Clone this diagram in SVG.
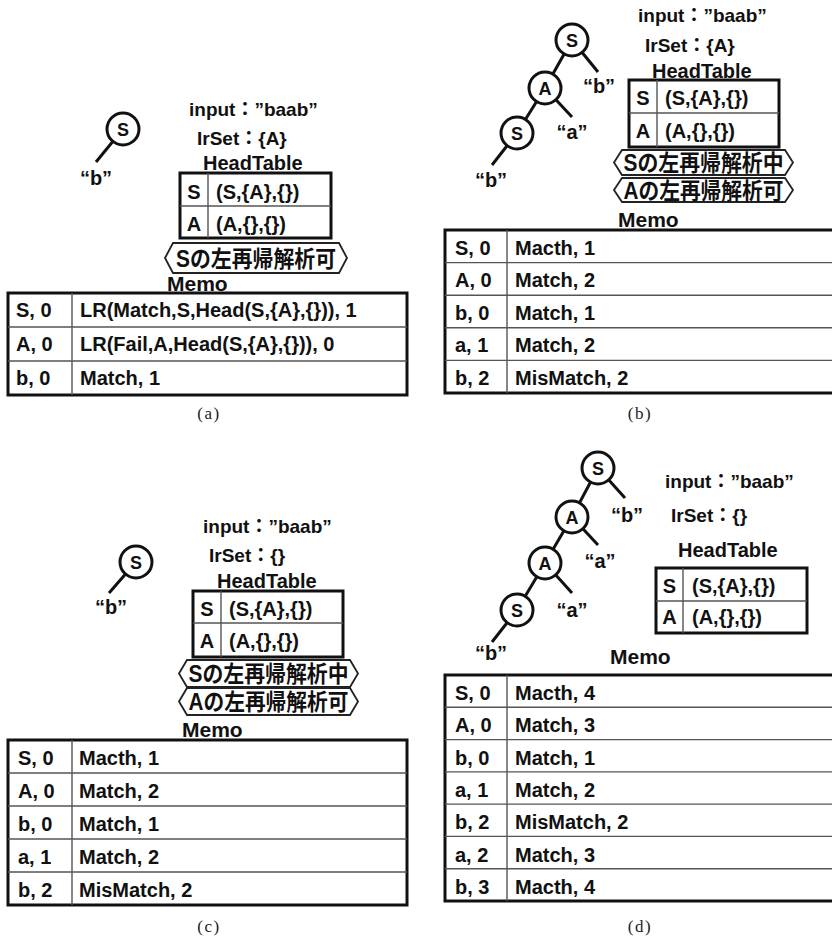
<svg xmlns="http://www.w3.org/2000/svg" width="832" height="939" viewBox="0 0 832 939">
<style>
.t{font-family:"Liberation Sans","Noto Sans CJK JP",sans-serif;font-weight:bold;fill:#111}
.lab{font-size:19px}
.ht{font-size:20px}
.memo{font-size:21px}
.cell{font-size:20px}
.q{font-size:20px;text-anchor:middle}
.mid{text-anchor:middle}
.cjk{font-family:"Liberation Sans","Noto Sans CJK JP",sans-serif;font-weight:bold;font-size:23px;text-anchor:middle;fill:#111}
.cap{font-family:"Liberation Serif","DejaVu Serif",serif;font-size:17px;letter-spacing:1.5px;text-anchor:middle;fill:#222}
.outer{fill:#fff;stroke:#111;stroke-width:3}
.inner{stroke:#555;stroke-width:1.4}
.hex{fill:#fff;stroke:#222;stroke-width:1.8}
.node circle{fill:#fff;stroke:#111;stroke-width:3}
.node text{font-family:"Liberation Sans",sans-serif;font-weight:bold;font-size:18px;text-anchor:middle;fill:#111}
.edge{stroke:#111;stroke-width:3;fill:none}
</style>
<rect width="832" height="939" fill="#fff"/>

<!-- connectors -->
<g id="connectors">
  <line class="edge" x1="123" y1="129" x2="96" y2="162"/>
  <line class="edge" x1="572" y1="40" x2="545" y2="88"/>
  <line class="edge" x1="572" y1="40" x2="598" y2="72"/>
  <line class="edge" x1="545" y1="88" x2="517" y2="133"/>
  <line class="edge" x1="545" y1="88" x2="572" y2="117"/>
  <line class="edge" x1="517" y1="133" x2="492" y2="165"/>
  <line class="edge" x1="136" y1="562" x2="109" y2="593"/>
  <line class="edge" x1="598" y1="468" x2="572" y2="517"/>
  <line class="edge" x1="598" y1="468" x2="625" y2="498"/>
  <line class="edge" x1="572" y1="517" x2="545" y2="563"/>
  <line class="edge" x1="572" y1="517" x2="598" y2="545"/>
  <line class="edge" x1="545" y1="563" x2="517" y2="610"/>
  <line class="edge" x1="545" y1="563" x2="572" y2="593"/>
  <line class="edge" x1="517" y1="610" x2="492" y2="642"/>
</g>

<!-- Panel (a) -->
<g id="a-S" class="node"><circle cx="123" cy="129" r="16"/><text x="123" y="135.5">S</text></g>
<g id="a-b"><text class="t q" x="96" y="185">“b”</text></g>
<g id="a-info">
  <text class="t lab" x="189" y="116">input：”baab”</text>
  <text class="t lab" x="197" y="145">IrSet：{A}</text>
  <text class="t ht" x="203" y="170">HeadTable</text>
</g>
<g id="a-headtable">
  <rect class="outer" x="180" y="173" width="151" height="65"/>
  <line class="inner" x1="208" y1="173" x2="208" y2="238"/>
  <line class="inner" x1="180" y1="206" x2="331" y2="206"/>
  <text class="t ht mid" x="194" y="199">S</text><text class="t ht" x="216" y="199">(S,{A},{})</text>
  <text class="t ht mid" x="194" y="231">A</text><text class="t ht" x="216" y="231">(A,{},{})</text>
</g>
<g id="a-flag1">
  <polygon class="hex" points="165,258 173,243 339,243 347,258 339,273 173,273"/>
  <text class="cjk" x="256" y="267" textLength="160" lengthAdjust="spacingAndGlyphs">Sの左再帰解析可</text>
</g>
<g id="a-memo">
  <text class="t memo" x="167" y="291">Memo</text>
  <rect class="outer" x="8" y="293" width="399" height="102"/>
  <line class="inner" x1="72" y1="293" x2="72" y2="395"/>
  <line class="inner" x1="8" y1="327" x2="407" y2="327"/>
  <line class="inner" x1="8" y1="361" x2="407" y2="361"/>
  <text class="t cell" x="16" y="317">S, 0</text><text class="t cell" x="80" y="317">LR(Match,S,Head(S,{A},{})), 1</text>
  <text class="t cell" x="16" y="351">A, 0</text><text class="t cell" x="80" y="351">LR(Fail,A,Head(S,{A},{})), 0</text>
  <text class="t cell" x="16" y="385">b, 0</text><text class="t cell" x="80" y="385">Match, 1</text>
</g>
<text class="cap" x="209" y="419">(a)</text>

<!-- Panel (b) -->
<g id="b-S" class="node"><circle cx="572" cy="40" r="16"/><text x="572" y="46.5">S</text></g>
<g id="b-A" class="node"><circle cx="545" cy="88" r="16"/><text x="545" y="94.5">A</text></g>
<g id="b-S2" class="node"><circle cx="517" cy="133" r="16"/><text x="517" y="139.5">S</text></g>
<g id="b-b1"><text class="t q" x="599" y="93">“b”</text></g>
<g id="b-a1"><text class="t q" x="572" y="139">“a”</text></g>
<g id="b-b2"><text class="t q" x="491" y="187">“b”</text></g>
<g id="b-info">
  <text class="t lab" x="638" y="22">input：”baab”</text>
  <text class="t lab" x="645" y="52">IrSet：{A}</text>
  <text class="t ht" x="652" y="78">HeadTable</text>
</g>
<g id="b-headtable">
  <rect class="outer" x="629" y="80" width="150" height="67"/>
  <line class="inner" x1="657" y1="80" x2="657" y2="147"/>
  <line class="inner" x1="629" y1="113" x2="779" y2="113"/>
  <text class="t ht mid" x="643" y="105">S</text><text class="t ht" x="665" y="105">(S,{A},{})</text>
  <text class="t ht mid" x="643" y="138">A</text><text class="t ht" x="665" y="138">(A,{},{})</text>
</g>
<g id="b-flag1">
  <polygon class="hex" points="614,162.5 622,150 785,150 793,162.5 785,175 622,175"/>
  <text class="cjk" x="703.5" y="171" textLength="160" lengthAdjust="spacingAndGlyphs">Sの左再帰解析中</text>
</g>
<g id="b-flag2">
  <polygon class="hex" points="614,190 622,178 785,178 793,190 785,202 622,202"/>
  <text class="cjk" x="703.5" y="198.5" textLength="160" lengthAdjust="spacingAndGlyphs">Aの左再帰解析可</text>
</g>
<g id="b-memo">
  <text class="t memo" x="618" y="227">Memo</text>
  <rect class="outer" x="445" y="230" width="390" height="163"/>
  <line class="inner" x1="507" y1="230" x2="507" y2="393"/>
  <line class="inner" x1="445" y1="262.6" x2="835" y2="262.6"/>
  <line class="inner" x1="445" y1="295.2" x2="835" y2="295.2"/>
  <line class="inner" x1="445" y1="327.8" x2="835" y2="327.8"/>
  <line class="inner" x1="445" y1="360.4" x2="835" y2="360.4"/>
  <text class="t cell" x="455" y="255">S, 0</text><text class="t cell" x="515" y="255">Macth, 1</text>
  <text class="t cell" x="455" y="287">A, 0</text><text class="t cell" x="515" y="287">Match, 2</text>
  <text class="t cell" x="455" y="320">b, 0</text><text class="t cell" x="515" y="320">Match, 1</text>
  <text class="t cell" x="455" y="352">a, 1</text><text class="t cell" x="515" y="352">Match, 2</text>
  <text class="t cell" x="455" y="385">b, 2</text><text class="t cell" x="515" y="385">MisMatch, 2</text>
</g>
<text class="cap" x="640" y="419">(b)</text>

<!-- Panel (c) -->
<g id="c-S" class="node"><circle cx="136" cy="562" r="16"/><text x="136" y="568.5">S</text></g>
<g id="c-b"><text class="t q" x="111" y="614">“b”</text></g>
<g id="c-info">
  <text class="t lab" x="203" y="533">input：”baab”</text>
  <text class="t lab" x="209" y="562">IrSet：{}</text>
  <text class="t ht" x="217" y="588">HeadTable</text>
</g>
<g id="c-headtable">
  <rect class="outer" x="193" y="591" width="150" height="66"/>
  <line class="inner" x1="221" y1="591" x2="221" y2="657"/>
  <line class="inner" x1="193" y1="623" x2="343" y2="623"/>
  <text class="t ht mid" x="207" y="616">S</text><text class="t ht" x="229" y="616">(S,{A},{})</text>
  <text class="t ht mid" x="207" y="648">A</text><text class="t ht" x="229" y="648">(A,{},{})</text>
</g>
<g id="c-flag1">
  <polygon class="hex" points="179,673.5 187,660 350,660 358,673.5 350,687 187,687"/>
  <text class="cjk" x="268.5" y="682" textLength="160" lengthAdjust="spacingAndGlyphs">Sの左再帰解析中</text>
</g>
<g id="c-flag2">
  <polygon class="hex" points="179,701.5 187,688 350,688 358,701.5 350,715 187,715"/>
  <text class="cjk" x="268.5" y="710" textLength="160" lengthAdjust="spacingAndGlyphs">Aの左再帰解析可</text>
</g>
<g id="c-memo">
  <text class="t memo" x="182" y="737">Memo</text>
  <rect class="outer" x="8" y="740" width="399" height="165"/>
  <line class="inner" x1="72" y1="740" x2="72" y2="905"/>
  <line class="inner" x1="8" y1="773" x2="407" y2="773"/>
  <line class="inner" x1="8" y1="806" x2="407" y2="806"/>
  <line class="inner" x1="8" y1="839" x2="407" y2="839"/>
  <line class="inner" x1="8" y1="872" x2="407" y2="872"/>
  <text class="t cell" x="18" y="765">S, 0</text><text class="t cell" x="79" y="765">Macth, 1</text>
  <text class="t cell" x="18" y="798">A, 0</text><text class="t cell" x="79" y="798">Match, 2</text>
  <text class="t cell" x="18" y="831">b, 0</text><text class="t cell" x="79" y="831">Match, 1</text>
  <text class="t cell" x="18" y="864">a, 1</text><text class="t cell" x="79" y="864">Match, 2</text>
  <text class="t cell" x="18" y="897">b, 2</text><text class="t cell" x="79" y="897">MisMatch, 2</text>
</g>
<text class="cap" x="209" y="932">(c)</text>

<!-- Panel (d) -->
<g id="d-S" class="node"><circle cx="598" cy="468" r="16"/><text x="598" y="474.5">S</text></g>
<g id="d-A1" class="node"><circle cx="572" cy="517" r="16"/><text x="572" y="523.5">A</text></g>
<g id="d-A2" class="node"><circle cx="545" cy="563" r="16"/><text x="545" y="569.5">A</text></g>
<g id="d-S2" class="node"><circle cx="517" cy="610" r="16"/><text x="517" y="616.5">S</text></g>
<g id="d-b1"><text class="t q" x="627" y="522">“b”</text></g>
<g id="d-a1"><text class="t q" x="600" y="568">“a”</text></g>
<g id="d-a2"><text class="t q" x="572" y="617">“a”</text></g>
<g id="d-b2"><text class="t q" x="491" y="660">“b”</text></g>
<g id="d-info">
  <text class="t lab" x="665" y="488">input：”baab”</text>
  <text class="t lab" x="671" y="522">IrSet：{}</text>
  <text class="t ht" x="678" y="557">HeadTable</text>
</g>
<g id="d-headtable">
  <rect class="outer" x="656" y="568" width="151" height="65"/>
  <line class="inner" x1="683" y1="568" x2="683" y2="633"/>
  <line class="inner" x1="656" y1="601" x2="807" y2="601"/>
  <text class="t ht mid" x="669.5" y="593">S</text><text class="t ht" x="692" y="593">(S,{A},{})</text>
  <text class="t ht mid" x="669.5" y="624">A</text><text class="t ht" x="692" y="624">(A,{},{})</text>
</g>
<g id="d-memo">
  <text class="t memo" x="610" y="664">Memo</text>
  <rect class="outer" x="445" y="675" width="390" height="226"/>
  <line class="inner" x1="507" y1="675" x2="507" y2="901"/>
  <line class="inner" x1="445" y1="707.3" x2="835" y2="707.3"/>
  <line class="inner" x1="445" y1="739.6" x2="835" y2="739.6"/>
  <line class="inner" x1="445" y1="771.9" x2="835" y2="771.9"/>
  <line class="inner" x1="445" y1="804.1" x2="835" y2="804.1"/>
  <line class="inner" x1="445" y1="836.4" x2="835" y2="836.4"/>
  <line class="inner" x1="445" y1="868.7" x2="835" y2="868.7"/>
  <text class="t cell" x="455" y="700">S, 0</text><text class="t cell" x="515" y="700">Macth, 4</text>
  <text class="t cell" x="455" y="732">A, 0</text><text class="t cell" x="515" y="732">Match, 3</text>
  <text class="t cell" x="455" y="765">b, 0</text><text class="t cell" x="515" y="765">Match, 1</text>
  <text class="t cell" x="455" y="797">a, 1</text><text class="t cell" x="515" y="797">Match, 2</text>
  <text class="t cell" x="455" y="829">b, 2</text><text class="t cell" x="515" y="829">MisMatch, 2</text>
  <text class="t cell" x="455" y="862">a, 2</text><text class="t cell" x="515" y="862">Match, 3</text>
  <text class="t cell" x="455" y="894">b, 3</text><text class="t cell" x="515" y="894">Macth, 4</text>
</g>
<text class="cap" x="640" y="932">(d)</text>
</svg>
